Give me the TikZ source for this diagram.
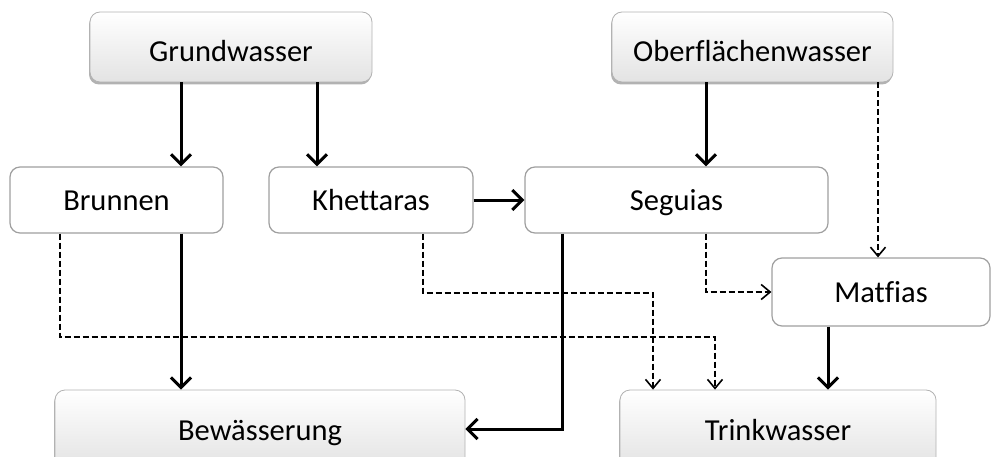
\documentclass[tikz,border=0pt]{standalone}
\usepackage{fontspec}
\setmainfont[Ligatures=NoCommon]{Carlito}
\usetikzlibrary{arrows.meta,shadows}
\begin{document}
\begin{tikzpicture}[x=1pt,y=-1pt,
  lbl/.style={font=\fontsize{30.5}{36}\selectfont, text depth=0pt},
  mainbox/.style={lbl, text height=30pt, rounded corners=10pt, draw=gray!60, line width=0.8pt,
    top color=white, bottom color=gray!22,
    drop shadow={shadow xshift=-1pt, shadow yshift=-2.5pt, opacity=0.5, fill=gray!80!black},
    inner sep=0pt},
  midbox/.style={lbl, text height=21pt, rounded corners=10pt, draw=gray!75, line width=1.2pt, fill=white, inner sep=0pt},
  solidarrow/.style={line width=3pt, -{Straight Barb[length=10pt,width=20pt]}},
  dasharrow/.style={line width=1.6pt, dash pattern=on 6pt off 3pt, -{Straight Barb[length=9pt,width=15pt]}}]
\useasboundingbox (0,0) rectangle (992,457);
% boxes
\node[mainbox, minimum width=282pt, minimum height=70pt] (gw) at (231,47) {Grundwasser};
\node[mainbox, minimum width=281pt, minimum height=70pt] (ow) at (752.5,47) {Oberflächenwasser};
\node[midbox, minimum width=213pt, minimum height=66pt] (br) at (116.5,200) {Brunnen};
\node[midbox, minimum width=204pt, minimum height=66pt] (kh) at (371,200) {Khettaras};
\node[midbox, minimum width=303pt, minimum height=66pt] (sg) at (676.5,200) {Seguias};
\node[midbox, minimum width=218pt, minimum height=68pt] (mf) at (881,292) {Matfias};
\node[mainbox, text height=22pt, minimum width=410pt, minimum height=78pt] (bw) at (260,429) {Bewässerung};
\node[mainbox, text height=22pt, minimum width=316pt, minimum height=78pt] (tw) at (778,429) {Trinkwasser};
% column / row coordinates
\coordinate (xa) at (60,0);
\coordinate (xb) at (181,0);
\coordinate (xc) at (317,0);
\coordinate (xd) at (423,0);
\coordinate (xe) at (562,0);
\coordinate (xf) at (653,0);
\coordinate (xg) at (706,0);
\coordinate (xh) at (715,0);
\coordinate (xi) at (828,0);
\coordinate (xj) at (878,0);
\coordinate (ya) at (0,293);
\coordinate (yb) at (0,337);
% dashed connectors
\draw[dasharrow] (br.south -| xa) |- (xh |- yb) -- (tw.north -| xh);
\draw[dasharrow] (kh.south -| xd) |- (xf |- ya) -- (tw.north -| xf);
\draw[dasharrow] (sg.south -| xg) |- (mf.west);
\draw[dasharrow] (ow.south -| xj) -- (mf.north -| xj);
% solid connectors
\draw[solidarrow] (gw.south -| xb) -- (br.north -| xb);
\draw[solidarrow] (gw.south -| xc) -- (kh.north -| xc);
\draw[solidarrow] (ow.south -| xg) -- (sg.north -| xg);
\draw[solidarrow] (kh.east) -- (sg.west);
\draw[solidarrow] (br.south -| xb) -- (bw.north -| xb);
\draw[solidarrow] (sg.south -| xe) |- (bw.east);
\draw[solidarrow] (mf.south -| xi) -- (tw.north -| xi);
\end{tikzpicture}
\end{document}
